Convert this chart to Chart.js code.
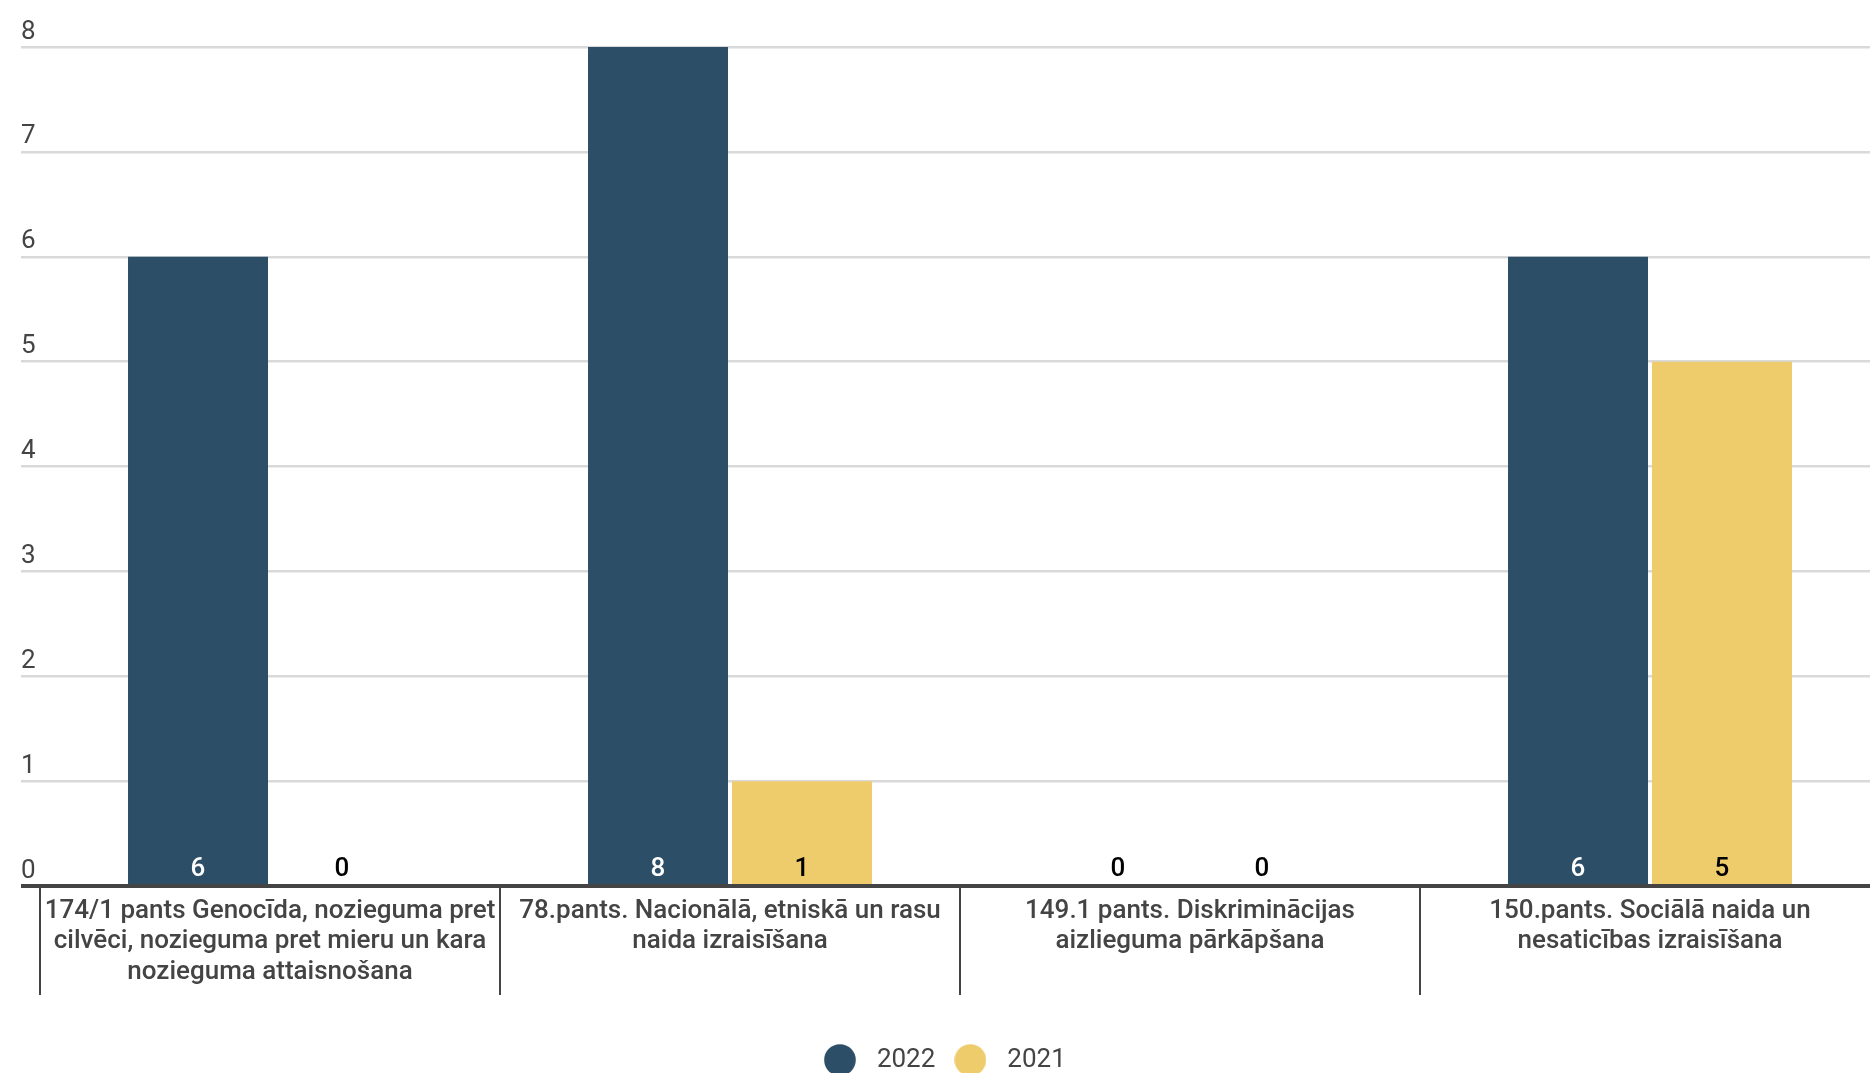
<!DOCTYPE html>
<html><head><meta charset="utf-8">
<script src="https://cdn.jsdelivr.net/npm/chart.js@4"></script>
<style>
html,body{margin:0;padding:0;overflow:hidden;background:#fff}
#wrap{width:1900px;height:1083px;position:relative}
</style></head><body>
<div id="wrap"><canvas id="c" width="1900" height="1083"></canvas></div>
<script>
const categories = [
  ["174/1 pants Genocīda, nozieguma pret", "cilvēci, nozieguma pret mieru un kara", "nozieguma attaisnošana"],
  ["78.pants. Nacionālā, etniskā un rasu", "naida izraisīšana"],
  ["149.1 pants. Diskriminācijas", "aizlieguma pārkāpšana"],
  ["150.pants. Sociālā naida un", "nesaticības izraisīšana"]
];
const seriesNames = ["2022", "2021"];
const values2022 = [6, 8, 0, 6];
const values2021 = [0, 1, 0, 5];
const yTickValues = [0, 1, 2, 3, 4, 5, 6, 7, 8];

const COL_DARK = '#2c4f67';
const COL_YEL = '#eecb6b';
const TEXT = '#444444';

function circleImg(color) {
  const c = document.createElement('canvas');
  c.width = 32; c.height = 32;
  const g = c.getContext('2d');
  g.fillStyle = color;
  g.beginPath(); g.arc(16, 16, 15.8, 0, Math.PI * 2); g.fill();
  return c;
}
const legendImgs = [circleImg(COL_DARK), circleImg(COL_YEL)];

const dataLabels = {
  id: 'dataLabels',
  afterDatasetsDraw(chart) {
    const ctx = chart.ctx;
    const yBase = chart.scales.y.getPixelForValue(0);
    chart.data.datasets.forEach((ds, di) => {
      const meta = chart.getDatasetMeta(di);
      meta.data.forEach((bar, i) => {
        const v = ds.data[i];
        ctx.save();
        ctx.font = '500 26px Roboto';
        ctx.textAlign = 'center';
        ctx.textBaseline = 'middle';
        ctx.fillStyle = (di === 0 && v > 0) ? '#ffffff' : '#000000';
        ctx.fillText(String(v), bar.x, yBase - 16.5);
        ctx.restore();
      });
    });
  }
};

new Chart(document.getElementById('c'), {
  type: 'bar',
  data: {
    labels: categories,
    datasets: [
      { label: seriesNames[0], data: values2022, backgroundColor: COL_DARK, borderWidth: 0,
        categoryPercentage: 0.626, barPercentage: 0.9722 },
      { label: seriesNames[1], data: values2021, backgroundColor: COL_YEL, borderWidth: 0,
        categoryPercentage: 0.626, barPercentage: 0.9722 }
    ]
  },
  options: {
    responsive: false,
    animation: false,
    devicePixelRatio: 1,
    layout: { padding: { left: 21, right: 20, top: 47, bottom: 0 } },
    font: { family: 'Roboto' },
    scales: {
      x: {
        type: 'category',
        offset: true,
        z: 1,
        grid: { offset: true, drawOnChartArea: false, drawTicks: true, tickLength: 109, color: TEXT, lineWidth: 2 },
        border: { display: true, color: TEXT, width: 4 },
        ticks: { padding: -99, color: TEXT, font: { family: 'Roboto', size: 26, weight: '500', lineHeight: 1.17 },
          maxRotation: 0, minRotation: 0, autoSkip: false },
        afterFit(s) { s.height = 150; }
      },
      y: {
        min: 0, max: 8,
        afterBuildTicks(s) { s.ticks = yTickValues.map(v => ({ value: v })); },
        border: { display: false },
        grid: {
          drawTicks: true, tickLength: 19,
          color: c => (c.tick && c.tick.value === 0) ? TEXT : '#d9d9d9',
          lineWidth: c => (c.tick && c.tick.value === 0) ? 4 : 2.5
        },
        ticks: { crossAlign: 'far', labelOffset: -15, padding: 0, color: TEXT,
          font: { family: 'Roboto', size: 26 } },
        afterFit(s) { s.width = 19; }
      }
    },
    plugins: {
      tooltip: { enabled: false },
      legend: {
        position: 'bottom',
        labels: {
          usePointStyle: true,
          pointStyleWidth: 48,
          padding: 11,
          color: TEXT,
          font: { family: 'Roboto', size: 26 },
          generateLabels(chart) {
            const items = Chart.defaults.plugins.legend.labels.generateLabels(chart);
            items.forEach((it, i) => {
              it.pointStyle = legendImgs[i];
              it.text = seriesNames[i] + (i === items.length - 1 ? '   ' : '');
            });
            return items;
          }
        }
      }
    }
  },
  plugins: [dataLabels]
});
</script>
</body></html>
